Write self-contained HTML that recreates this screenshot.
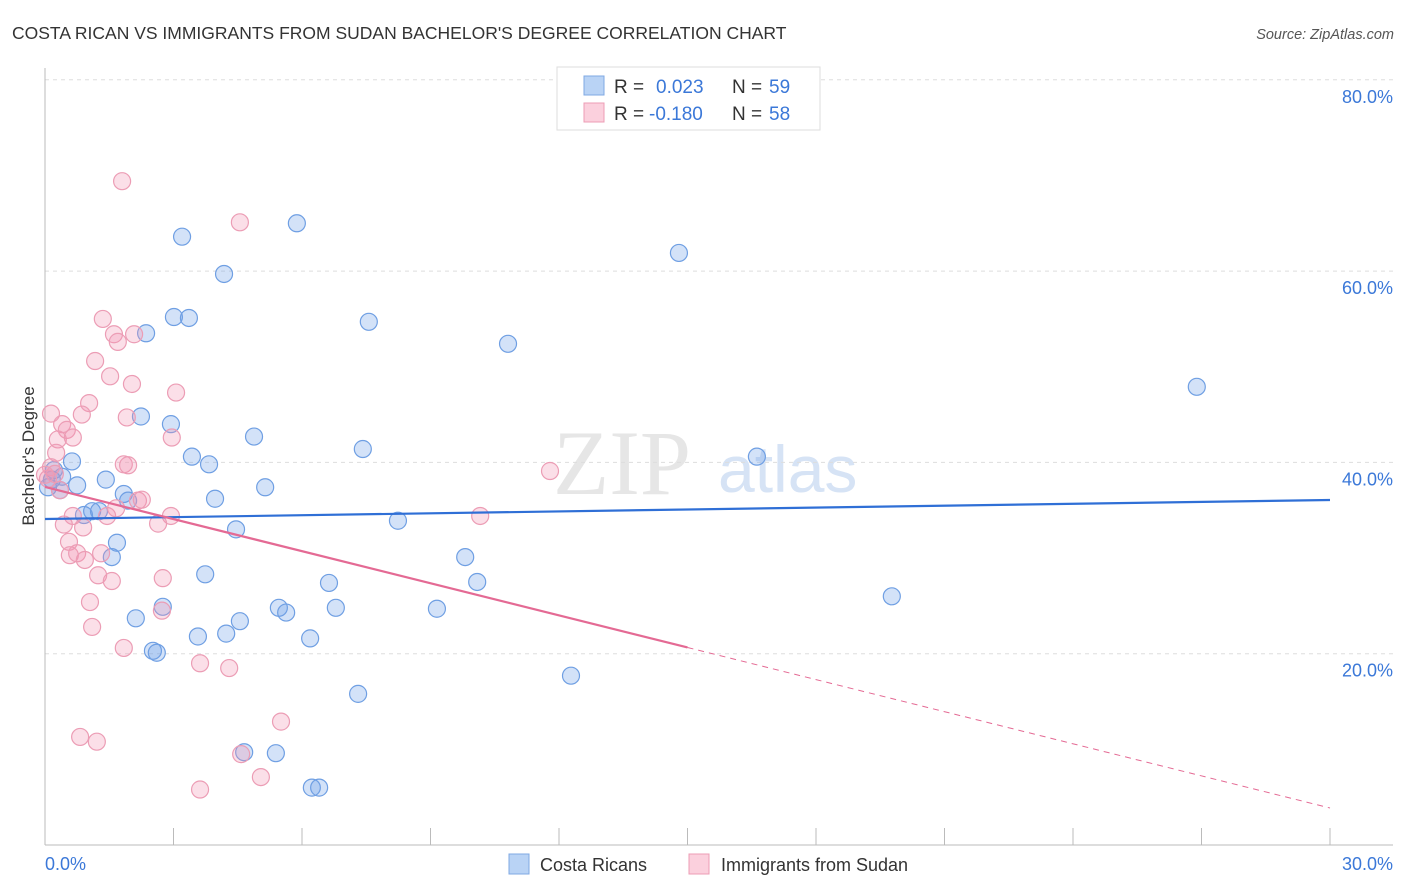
<!DOCTYPE html>
<html><head><meta charset="utf-8"><style>
body{margin:0;background:#fff;font-family:"Liberation Sans",sans-serif}
svg{display:block}
</style></head><body>
<svg id="chart" width="1406" height="892" xmlns="http://www.w3.org/2000/svg" font-family="Liberation Sans, sans-serif">
<text x="12" y="39" font-size="17.5" fill="#333">COSTA RICAN VS IMMIGRANTS FROM SUDAN BACHELOR'S DEGREE CORRELATION CHART</text>
<text x="1394" y="39" font-size="14.5" fill="#555" font-style="italic" text-anchor="end">Source: ZipAtlas.com</text>
<g>
<text x="553" y="494" font-size="92" font-family="Liberation Serif, serif" fill="#e6e6e6">ZIP</text>
<text x="718" y="492" font-size="66" fill="#d6e3f5">atlas</text>
</g>
<g id="grid"></g>
<g id="axes"></g>
<g id="pts"></g>
<g id="trends"></g>
<text transform="translate(34,456) rotate(-90)" font-size="17" fill="#333" text-anchor="middle">Bachelor's Degree</text>
<g>
<rect x="557" y="67" width="263" height="63" fill="#fff" stroke="#ddd"/>
<rect x="584" y="76" width="20" height="19" fill="#b9d3f5" stroke="#7fa8e3"/>
<rect x="584" y="103" width="20" height="19" fill="#fbd0dd" stroke="#ec9db5"/>
<text x="614" y="93" font-size="19" fill="#333">R = </text><text x="656" y="93" font-size="19" fill="#3b78d8">0.023</text>
<text x="732" y="93" font-size="19" fill="#333">N = </text><text x="769" y="93" font-size="19" fill="#3b78d8">59</text>
<text x="614" y="120" font-size="19" fill="#333">R = </text><text x="649" y="120" font-size="19" fill="#3b78d8">-0.180</text>
<text x="732" y="120" font-size="19" fill="#333">N = </text><text x="769" y="120" font-size="19" fill="#3b78d8">58</text>
</g>
<g>
<rect x="509" y="854" width="20" height="20" fill="#b9d3f5" stroke="#7fa8e3"/>
<text x="540" y="871" font-size="18" fill="#333">Costa Ricans</text>
<rect x="689" y="854" width="20" height="20" fill="#fbd0dd" stroke="#ec9db5"/>
<text x="721" y="871" font-size="18" fill="#333">Immigrants from Sudan</text>
</g>
</svg>
<script>
const yTicks=[20,40,60,80];
const yTickLabels=["20.0%","40.0%","60.0%","80.0%"];
const xTickLabels=["0.0%","30.0%"];
const costaX=[3.20,5.88,4.18,14.80,3.01,3.36,2.36,7.56,10.81,26.89,2.24,2.94,4.88,7.42,3.43,3.83,16.62,0.63,0.21,0.40,0.07,0.35,0.75,1.42,1.84,1.94,3.97,5.14,1.10,1.26,0.91,4.46,8.24,1.68,1.56,9.81,6.63,10.09,3.74,19.77,2.75,5.46,5.63,6.79,9.15,2.12,4.55,3.57,4.23,6.19,2.52,2.61,12.28,7.31,4.65,5.39,6.23,6.40,0.16];
const costaY=[63.6,65.0,59.7,61.9,55.2,55.1,53.5,54.7,52.4,47.9,44.8,44.0,42.7,41.4,40.6,39.8,40.6,40.1,39.2,38.5,37.4,37.1,37.6,38.2,36.7,36.0,36.2,37.4,34.9,34.9,34.5,33.0,33.9,31.6,30.1,30.1,27.4,27.5,28.3,26.0,24.9,24.8,24.3,24.8,24.7,23.7,23.4,21.8,22.1,21.6,20.3,20.1,17.7,15.8,9.7,9.6,6.0,6.0,38.2];
const sudanX=[1.80,4.55,1.35,1.61,2.08,1.70,1.17,1.52,2.03,3.06,1.03,0.14,0.86,1.91,0.40,0.51,0.30,0.65,2.96,0.26,1.84,1.94,0.14,0.23,11.79,0.07,0.35,0.00,0.65,1.45,2.17,2.26,1.66,2.94,10.16,2.64,0.44,0.89,0.56,0.58,0.75,1.31,0.93,2.75,1.24,1.56,1.05,2.73,1.10,1.84,3.62,4.30,5.51,0.82,1.21,4.58,5.04,3.62];
const sudanY=[69.4,65.1,55.0,53.4,53.4,52.6,50.6,49.0,48.2,47.3,46.2,45.1,45.0,44.7,44.0,43.4,42.4,42.6,42.6,41.0,39.8,39.7,39.5,38.8,39.1,38.3,37.1,38.7,34.4,34.4,36.0,36.1,35.2,34.4,34.4,33.6,33.5,33.2,31.7,30.3,30.5,30.5,29.8,27.9,28.2,27.6,25.4,24.5,22.8,20.6,19.0,18.5,12.9,11.3,10.8,9.5,7.1,5.8];
const costaTrend=[34.08,36.07];
const sudanTrend=[37.43,3.87];
const NS='http://www.w3.org/2000/svg';
const X0=45,X1=1330,Y0=845,YPER=9.565;
function sx(v){return X0+(v/30)*(X1-X0);}
function sy(v){return Y0-v*YPER;}
function mk(tag,attrs,parent){const e=document.createElementNS(NS,tag);for(const k in attrs)e.setAttribute(k,attrs[k]);parent.appendChild(e);return e;}
const grid=document.getElementById('grid'),axes=document.getElementById('axes'),pts=document.getElementById('pts'),tr=document.getElementById('trends');
yTicks.forEach((t,i)=>{
 const l=mk('line',{x1:X0,x2:1393,y1:sy(t),y2:sy(t),stroke:'#ddd','stroke-dasharray':'4,4'},grid);
 
 
 const tx=mk('text',{x:1393,y:sy(t)+23,'font-size':18,fill:'#3b78d8','text-anchor':'end'},grid);
 tx.textContent=yTickLabels[i];
 
 
});
mk('line',{x1:X0,x2:X0,y1:68,y2:Y0,stroke:'#bbb'},axes);
mk('line',{x1:X0,x2:1393,y1:Y0,y2:Y0,stroke:'#bbb'},axes);
for(let i=0;i<=10;i++){const t=mk('line',{x1:sx(i*3),x2:sx(i*3),y1:828,y2:Y0,stroke:'#bbb'},axes);
 
 }
const xl0=mk('text',{x:X0,y:870,'font-size':18,fill:'#3b78d8'},axes);xl0.textContent=xTickLabels[0];


const xl1=mk('text',{x:1393,y:870,'font-size':18,fill:'#3b78d8','text-anchor':'end'},axes);xl1.textContent=xTickLabels[1];


costaX.forEach((v,i)=>{const c=mk('circle',{cx:sx(v),cy:sy(costaY[i]),r:8.5,fill:'rgba(110,160,232,0.3)',stroke:'#6f9fe3','stroke-width':1.2},pts);
 
 });
sudanX.forEach((v,i)=>{const c=mk('circle',{cx:sx(v),cy:sy(sudanY[i]),r:8.5,fill:'rgba(242,150,180,0.3)',stroke:'#ec9db5','stroke-width':1.2},pts);
 
 });
const bl=mk('line',{x1:sx(0),y1:sy(costaTrend[0]),x2:sx(30),y2:sy(costaTrend[1]),stroke:'#2f6fd6','stroke-width':2.2},tr);


const sMid=sudanTrend[0]+(sudanTrend[1]-sudanTrend[0])*0.5;
const pl=mk('line',{x1:sx(0),y1:sy(sudanTrend[0]),x2:sx(15),y2:sy(sMid),stroke:'#e46a94','stroke-width':2.2},tr);


const pd=mk('line',{x1:sx(15),y1:sy(sMid),x2:sx(30),y2:sy(sudanTrend[1]),stroke:'#e46a94','stroke-width':1,'stroke-dasharray':'6,5'},tr);


</script>
</body></html>
